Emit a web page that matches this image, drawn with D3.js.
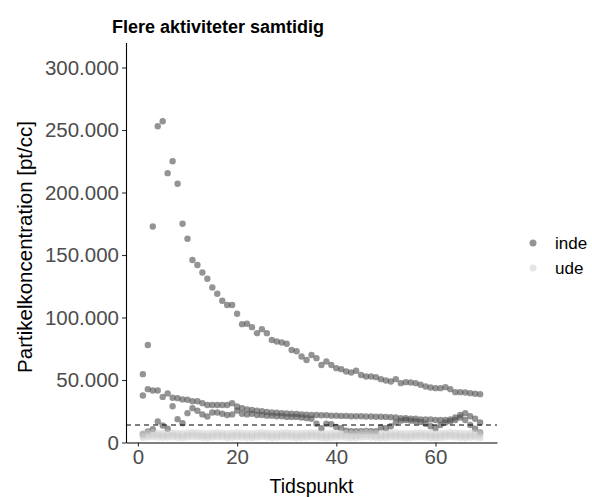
<!DOCTYPE html>
<html><head><meta charset="utf-8">
<script src="https://cdn.jsdelivr.net/npm/d3@7"></script>
<style>body{margin:0;background:#fff}svg{display:block}</style>
</head><body>
<script>
// ---- data (values in pt/cc, thousands) ----
const tidspunkt = d3.range(1, 70);
const indeA = [54.7,78,172.8,253,257,215.5,225,207,175,163,
 146,142,136,131,124,119,113.4,110,110,103,
 94.7,95,92.3,87.5,90.7,87.5,82,80.8,80,79,
 74,73,68.8,66,70,67.5,62,64.8,62,59.5,
 58.7,56.8,56,57.4,54,52.8,52.8,52.3,50.7,49.6,
 48.8,50.7,47.5,48.3,48,47.5,46.2,44.8,44,43.5,
 43.5,44.3,42.7,40.3,40.3,40,39.5,39,38.7];
const indeB = [37.6,42.7,41.6,41.6,36.5,39.3,35.8,35.5,34.5,34.2,
 33,33,31.5,30,30,30,30,30,31.5,28.8,
 27.5,26.5,26,25.5,25,24.5,24,23.8,23.5,23.2,
 23,22.8,22.5,22.3,22,22,21.8,21.8,21.5,21.5,
 21.3,21.3,21,21,21,20.8,20.8,20.6,20.6,20.5,
 20.3,20,19.5,19.5,19,19,18.5,18.5,18.5,18,
 18,18,18.5,20,22,23.5,21,19,16];
const indeC = [6.7,8.8,10.7,16.8,13.6,11,29,18.7,15.5,23.5,
 27.5,25.4,22.5,20.8,24,24,23,22,22.5,25.5,
 23,22.5,23,22,22,21.5,21.5,21,21,20.5,
 20.5,20.5,20,19.5,19,15,11.5,15,14.7,12.5,
 11.5,9.5,9,9,9,9.2,9,9,12,11.5,
 13,16,17.5,18,17.5,17,16.5,15,13,11.5,
 14,16,17,18,20,18,14,11,8];
const ude1 = [7.5,8.0,8.2,7.9,7.6,7.8,8.1,7.7,7.5,7.9,
 8.3,8.0,7.6,7.4,7.8,8.1,7.9,7.5,7.7,8.0,
 7.8,7.6,7.4,7.9,8.2,7.8,7.5,7.6,7.9,8.0,
 7.7,7.4,7.6,7.8,8.1,7.9,7.5,7.3,7.6,7.8,
 8.0,7.7,7.4,7.5,7.9,8.2,7.8,7.6,7.3,7.5,
 7.8,8.0,7.7,7.4,7.6,7.9,8.1,7.8,7.5,7.3,
 7.6,7.9,8.2,7.9,7.6,7.4,7.7,7.9,7.5];
const ude2 = [5.2,5.8,6.1,5.9,5.5,5.7,6.0,5.6,5.4,5.8,
 6.2,5.9,5.5,5.3,5.7,6.0,5.8,5.4,5.6,5.9,
 5.7,5.5,5.3,5.8,6.1,5.7,5.4,5.5,5.8,5.9,
 5.6,5.3,5.5,5.7,6.0,5.8,5.4,5.2,5.5,5.7,
 5.9,5.6,5.3,5.4,5.8,6.1,5.7,5.5,5.2,5.4,
 5.7,5.9,5.6,5.3,5.5,5.8,6.0,5.7,5.4,5.2,
 5.5,5.8,6.1,5.8,5.5,5.3,5.6,5.8,5.4];
const ude3 = [3.8,4.2,4.4,4.1,3.9,4.0,4.3,3.9,3.7,4.1,
 4.4,4.2,3.8,3.6,4.0,4.3,4.1,3.7,3.9,4.2,
 4.0,3.8,3.6,4.1,4.4,4.0,3.7,3.8,4.1,4.2,
 3.9,3.6,3.8,4.0,4.3,4.1,3.7,3.5,3.8,4.0,
 4.2,3.9,3.6,3.7,4.1,4.4,4.0,3.8,3.5,3.7,
 4.0,4.2,3.9,3.6,3.8,4.1,4.3,4.0,3.7,3.5,
 3.8,4.1,4.4,4.1,3.8,3.6,3.9,4.1,3.7];
const referenceLevel = 14000;
const groups = ["inde", "ude"];
const yTicks = [0, 50000, 100000, 150000, 200000, 250000, 300000];
const xTicks = [0, 20, 40, 60];
const titleText = "Flere aktiviteter samtidig";
const xTitle = "Tidspunkt";
const yTitle = "Partikelkoncentration [pt/cc]";

const seriesList = [
  {group:"inde", values:indeA},
  {group:"inde", values:indeB},
  {group:"inde", values:indeC},
  {group:"ude", values:ude1},
  {group:"ude", values:ude2},
  {group:"ude", values:ude3}
];
const points = [];
seriesList.forEach(s => s.values.forEach((v,i) => points.push({t:tidspunkt[i], v:v*1000, g:s.group})));

// ---- drawing ----
const W = 592, H = 497;
const svg = d3.select("body").append("svg").attr("width", W).attr("height", H)
  .style("font-family", "'Liberation Sans', Arial, sans-serif");

const x = d3.scaleLinear().domain([-2.4, 72.4]).range([126, 497]);
const y = d3.scaleLinear().domain([0, 320000]).range([442.5, 42.5]);
const color = d3.scaleOrdinal().domain(groups).range(["#4d4d4d", "#cccccc"]);
const opac = d3.scaleOrdinal().domain(groups).range([0.6, 0.5]);

const loc = d3.formatLocale({decimal:",", thousands:".", grouping:[3], currency:["","€"]});
const fmt = loc.format(",");

// points
svg.append("g").selectAll("circle").data(points).join("circle")
  .attr("cx", d => x(d.t)).attr("cy", d => y(d.v)).attr("r", 3.2)
  .attr("fill", d => color(d.g)).attr("fill-opacity", d => opac(d.g));

// reference line
svg.append("line")
  .attr("x1", x.range()[0]).attr("x2", x.range()[1])
  .attr("y1", y(referenceLevel)).attr("y2", y(referenceLevel))
  .attr("stroke", "#000").attr("stroke-width", 1.1).attr("stroke-dasharray", "5,4");

// axes
const yAxis = svg.append("g").attr("transform", "translate(126,0)")
  .call(d3.axisLeft(y).tickValues(yTicks).tickFormat(fmt).tickSize(4).tickPadding(3).tickSizeOuter(0));
const xAxis = svg.append("g").attr("transform", "translate(0,442.5)")
  .call(d3.axisBottom(x).tickValues(xTicks).tickSize(4).tickPadding(3).tickSizeOuter(0));
[yAxis, xAxis].forEach(a => {
  a.select(".domain").attr("stroke", "#000").attr("stroke-width", 1.1);
  a.selectAll(".tick line").attr("stroke", "#333").attr("stroke-width", 1.1);
  a.selectAll(".tick text").attr("fill", "#4d4d4d").style("font-size", "20.5px")
    .style("font-family", "'Liberation Sans', Arial, sans-serif");
});

// titles
svg.append("text").attr("x", 112).attr("y", 33).text(titleText)
  .style("font-size", "18px").style("font-weight", "bold").attr("fill", "#000");
svg.append("text").attr("x", 311.5).attr("y", 493).attr("text-anchor", "middle")
  .text(xTitle).style("font-size", "19.5px").attr("fill", "#000");
svg.append("text").attr("transform", "translate(32,247) rotate(-90)").attr("text-anchor", "middle")
  .text(yTitle).style("font-size", "20.5px").attr("fill", "#000");

// legend
const leg = svg.append("g");
groups.forEach((g, i) => {
  const yy = 243 + i * 25;
  leg.append("circle").attr("cx", 533).attr("cy", yy).attr("r", 3.5)
    .attr("fill", color(g)).attr("fill-opacity", opac(g));
  leg.append("text").attr("x", 555).attr("y", yy + 6).text(g)
    .style("font-size", "17px").attr("fill", "#000");
});
</script>
</body></html>
